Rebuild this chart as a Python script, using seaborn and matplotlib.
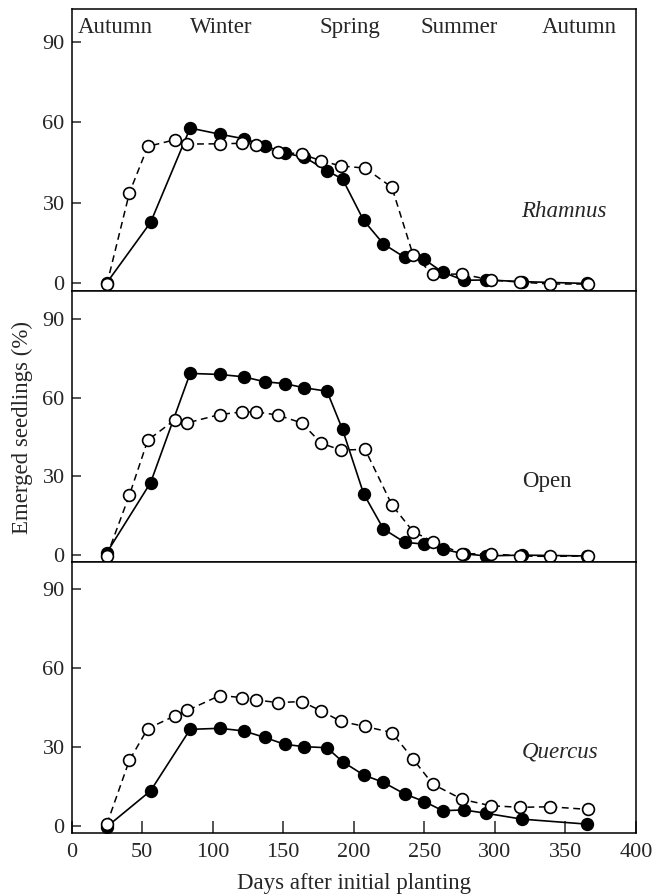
import pandas as pd
import matplotlib
matplotlib.use("Agg")
import matplotlib.pyplot as plt
import seaborn as sns

# ---------------------------------------------------------------------------
# Datos (días tras la siembra, % de plántulas emergidas)
# ---------------------------------------------------------------------------
dias_llenos = [25, 56, 84, 105, 122, 137, 151, 165, 181, 192, 207, 221,
               236, 250, 263, 278, 294, 319, 365]
dias_vacios = [25, 41, 54, 73, 82, 105, 121, 131, 146, 163, 177, 191,
               208, 227, 242, 256, 277, 297, 318, 339, 366]

rhamnus_lleno = [0, 22.6, 57.9, 55.6, 53.9, 51.3, 48.5, 47.0, 41.9, 38.8,
                 23.3, 14.5, 9.5, 8.7, 3.9, 0.9, 1.0, 0.4, -0.3]
rhamnus_vacio = [-0.6, 33.7, 51.0, 53.5, 51.9, 52.0, 52.2, 51.6, 48.9, 48.2,
                 45.6, 43.7, 42.9, 35.7, 10.4, 3.2, 3.2, 1.0, 0.2, -0.5, -0.5]

open_lleno = [0.9, 27.6, 69.3, 68.9, 68.0, 66.1, 65.4, 63.8, 62.5, 47.9,
              23.3, 9.9, 4.8, 4.1, 2.2, 0.4, -0.4, -0.1, -0.4]
open_vacio = [-0.4, 22.9, 43.8, 51.5, 50.4, 53.6, 54.6, 54.6, 53.4, 50.4,
              42.6, 40.0, 40.3, 19.1, 8.9, 5.1, 0.4, 0.4, -0.4, -0.6, -0.4]

quercus_lleno = [-0.4, 13.3, 36.7, 37.1, 36.1, 33.6, 31.0, 30.1, 29.7, 24.4,
                 19.3, 16.5, 12.1, 9.2, 5.7, 6.0, 4.7, 2.5, 0.6]
quercus_vacio = [0.6, 25.0, 37.0, 41.8, 43.9, 49.6, 48.8, 47.9, 46.9, 47.3,
                 43.7, 39.7, 37.8, 35.5, 25.4, 15.8, 10.0, 7.6, 7.0, 7.2, 6.2]

paneles = ["Rhamnus", "Open", "Quercus"]
cursiva = [True, False, True]
pos_paneles = [349, 337, 346]
series_llenas = [rhamnus_lleno, open_lleno, quercus_lleno]
series_vacias = [rhamnus_vacio, open_vacio, quercus_vacio]

estaciones = ["Autumn", "Winter", "Spring", "Summer", "Autumn"]
pos_estaciones = [31, 106, 197, 275, 360]

y_ticks = [0, 30, 60, 90]
x_ticks = [0, 50, 100, 150, 200, 250, 300, 350, 400]

# ---------------------------------------------------------------------------
# Estilo
# ---------------------------------------------------------------------------
sns.set_style("ticks")
plt.rcParams["font.family"] = ["Liberation Serif", "DejaVu Serif"]
FS = 16.5       # textos
FS_TICK = 16    # etiquetas de los ejes

fig, axes = plt.subplots(3, 1, figsize=(6.57, 8.96), dpi=100, sharex=True,
                         gridspec_kw={"height_ratios": [281.7, 271, 271.6],
                                      "hspace": 0})
fig.subplots_adjust(left=0.109, right=0.968, top=0.990, bottom=0.070)

limites_y = [(-3.0, 102.5), (-2.6, 100.9), (-2.9, 100.6)]

for i, ax in enumerate(axes):
    df_lleno = pd.DataFrame({"dia": dias_llenos, "valor": series_llenas[i]})
    df_vacio = pd.DataFrame({"dia": dias_vacios, "valor": series_vacias[i]})

    sns.lineplot(data=df_lleno, x="dia", y="valor", ax=ax, estimator=None,
                 sort=False, color="black", linewidth=1.2, marker="o",
                 markersize=8.5, markerfacecolor="black",
                 markeredgecolor="black", markeredgewidth=1.1)
    sns.lineplot(data=df_vacio, x="dia", y="valor", ax=ax, estimator=None,
                 sort=False, color="black", linewidth=1.1,
                 linestyle=(0, (4.5, 3)), marker="o", markersize=8.5,
                 markerfacecolor="white", markeredgecolor="black",
                 markeredgewidth=1.2)

    ax.set_xlim(0, 400)
    ax.set_ylim(*limites_y[i])
    ax.set_yticks(y_ticks)
    ax.set_xticks(x_ticks)
    ax.set_xlabel("")
    ax.set_ylabel("")
    ax.tick_params(axis="y", direction="in", length=6.5, width=1.1,
                   labelsize=FS_TICK, pad=5)
    ax.tick_params(axis="x", direction="in", length=9, width=1.1,
                   labelsize=FS_TICK, pad=7)
    for lado in ax.spines.values():
        lado.set_visible(True)
        lado.set_linewidth(1.1)
        lado.set_color("black")

    ax.text(pos_paneles[i], 28 if i > 0 else 26.5, paneles[i], fontsize=FS,
            style="italic" if cursiva[i] else "normal",
            ha="center", va="center")

# Solo el panel inferior lleva marcas en el eje x
for ax in axes[:-1]:
    ax.tick_params(axis="x", length=0, labelbottom=False)

for nombre, pos in zip(estaciones, pos_estaciones):
    axes[0].text(pos, 95.5, nombre, fontsize=FS, ha="center", va="center")

axes[-1].set_xlabel("Days after initial planting", fontsize=FS, labelpad=8)
fig.text(22 / 657, 1 - 428 / 896, "Emerged seedlings (%)", fontsize=FS,
         rotation=90, ha="center", va="center")

plt.savefig("out.png", dpi=100)
plt.close()
